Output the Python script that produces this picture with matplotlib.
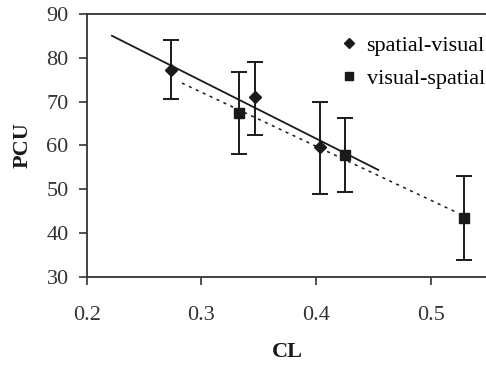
import numpy as np
import matplotlib
matplotlib.use("Agg")
import matplotlib.pyplot as plt
from matplotlib.lines import Line2D

plt.rcParams['font.family'] = ['Liberation Serif', 'DejaVu Serif']

# spatial-visual (diamonds)
sv_cl = [0.273, 0.347, 0.403]
sv_pcu = [77.2, 71.1, 59.7]
sv_lo = [70.7, 62.5, 48.9]
sv_hi = [84.1, 79.1, 70.0]
sv_fit_x = [0.222, 0.454]

# visual-spatial (squares)
vs_cl = [0.333, 0.425, 0.529]
vs_pcu = [67.5, 57.8, 43.4]
vs_lo = [58.0, 49.5, 33.8]
vs_hi = [76.8, 66.2, 53.0]
vs_fit_x = [0.283, 0.522]

xticks = [0.2, 0.3, 0.4, 0.5]
yticks = [30, 40, 50, 60, 70, 80, 90]

fig = plt.figure(figsize=(4.86, 3.66), dpi=100)
ax = fig.add_axes([0.1784, 0.2432, 0.8267, 0.7186])

def errs(y, lo, hi):
    y = np.array(y); return [y - np.array(lo), np.array(hi) - y]

ink = '#1a1a1a'
ax.errorbar(sv_cl, sv_pcu, yerr=errs(sv_pcu, sv_lo, sv_hi), fmt='D', color=ink,
            ms=6, ecolor=ink, elinewidth=1.4, capsize=5.5, capthick=1.4)
ax.errorbar(vs_cl, vs_pcu, yerr=errs(vs_pcu, vs_lo, vs_hi), fmt='s', color=ink,
            ms=6.5, ecolor=ink, elinewidth=1.4, capsize=5.5, capthick=1.4)

p1 = np.polyfit(sv_cl, sv_pcu, 1)
ax.plot(sv_fit_x, np.polyval(p1, sv_fit_x), color=ink, lw=1.3)
p2 = np.polyfit(vs_cl, vs_pcu, 1)
ax.plot(vs_fit_x, np.polyval(p2, vs_fit_x), color=ink, lw=1.1, dashes=(2, 3))

ax.set_xlim(0.2, 0.55)
ax.set_ylim(30, 90)
ax.set_xticks(xticks)
ax.set_xticklabels(['0.2', '0.3', '0.4', '0.5'])
ax.set_yticks(yticks)
ax.tick_params(axis='x', direction='out', length=6, width=1.2, pad=15, labelsize=16, colors='#333333')
ax.tick_params(axis='y', direction='out', length=6, width=1.2, pad=7, labelsize=16, colors='#333333')
for s in ax.spines.values():
    s.set_linewidth(1.3)
    s.set_color('#333333')

ax.set_xlabel('CL', fontsize=16, fontweight='bold', labelpad=12, color=ink)
ax.set_ylabel('PCU', fontsize=16, fontweight='bold', labelpad=10, color=ink)

handles = [Line2D([], [], ls='none', marker='D', ms=5, color=ink),
           Line2D([], [], ls='none', marker='s', ms=5.5, color=ink)]
ax.legend(handles, ['spatial-visual', 'visual-spatial'], loc='upper right',
          bbox_to_anchor=(1.035, 0.985), frameon=False, fontsize=16,
          handlelength=0.6, handletextpad=0.5, labelspacing=0.55, borderpad=0.3)

fig.savefig('out.png', dpi=100)
